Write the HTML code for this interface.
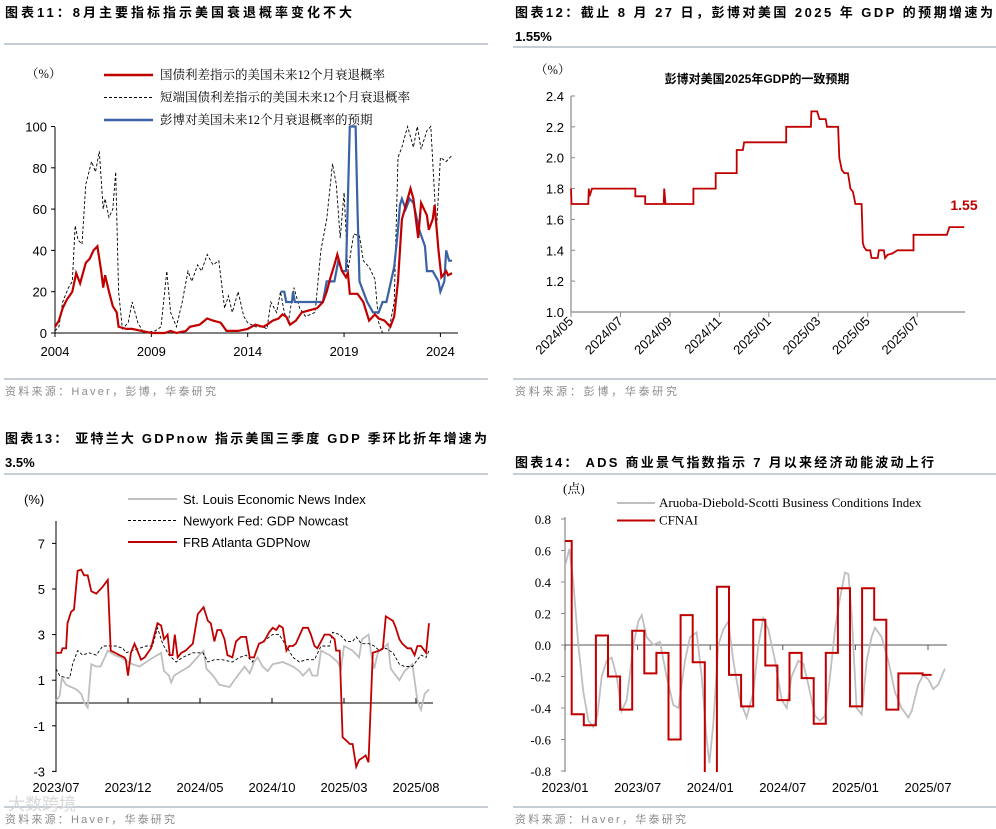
<!DOCTYPE html>
<html><head><meta charset="utf-8">
<style>
html,body{margin:0;padding:0;background:#fff;}
svg{display:block;}
text{font-family:"Liberation Sans","Noto Sans CJK SC",sans-serif;}
.ttl{font-weight:bold;font-size:13px;fill:#000;}
.src{font-size:11px;fill:#8c8c8c;}
.tk{font-size:13px;fill:#000;}
.lg{font-family:"Liberation Serif","Noto Serif CJK SC",serif;font-size:12.5px;fill:#000;}
.lga{font-size:13px;fill:#000;}
.tms{font-family:"Liberation Serif","Noto Serif CJK SC",serif;font-size:13px;fill:#000;}
</style></head>
<body>
<svg id="root" width="996" height="829" viewBox="0 0 996 829" xmlns="http://www.w3.org/2000/svg">
<rect width="996" height="829" fill="#fff"/>
<text class="ttl" x="5" y="17" textLength="347">图表11：8月主要指标指示美国衰退概率变化不大</text>
<line x1="4" y1="44" x2="488" y2="44" stroke="#a3afba" stroke-width="1.2"/>
<text class="ttl" x="515" y="17" textLength="478">图表12：截止 8 月 27 日，彭博对美国 2025 年 GDP 的预期增速为</text>
<text class="ttl" x="515" y="41">1.55%</text>
<line x1="513" y1="47" x2="996" y2="47" stroke="#a3afba" stroke-width="1.2"/>
<line x1="4" y1="379" x2="488" y2="379" stroke="#a3afba" stroke-width="1.2"/>
<line x1="513" y1="379" x2="996" y2="379" stroke="#a3afba" stroke-width="1.2"/>
<text class="src" x="5" y="395" textLength="211">资料来源：Haver，彭博，华泰研究</text>
<text class="src" x="515" y="395" textLength="162">资料来源：彭博，华泰研究</text>
<text class="ttl" x="5" y="443" textLength="482">图表13： 亚特兰大 GDPnow 指示美国三季度 GDP 季环比折年增速为</text>
<text class="ttl" x="5" y="467">3.5%</text>
<line x1="4" y1="474" x2="488" y2="474" stroke="#a3afba" stroke-width="1.2"/>
<text class="ttl" x="515" y="467" textLength="419">图表14： ADS 商业景气指数指示 7 月以来经济动能波动上行</text>
<line x1="513" y1="474" x2="996" y2="474" stroke="#a3afba" stroke-width="1.2"/>
<line x1="4" y1="807" x2="488" y2="807" stroke="#a3afba" stroke-width="1.2"/>
<line x1="513" y1="807" x2="996" y2="807" stroke="#a3afba" stroke-width="1.2"/>
<text class="src" x="5" y="823" textLength="170">资料来源：Haver，华泰研究</text>
<text class="src" x="515" y="823" textLength="171">资料来源：Haver，华泰研究</text>
<text x="8" y="810" font-size="17" fill="#d8d8d8">大数跨境</text>
<defs>
<clipPath id="clip4"><rect x="565" y="505" width="390" height="267"/></clipPath>
</defs>
<g id="c1"></g>
<g id="c2"></g>
<g id="c3"></g>
<g id="c4"></g>
</svg>
<script>
// ---------- Chart 11 data (year, %) ----------
const c1RedT = [2004.0,2004.2,2004.4,2004.6,2004.9,2005.1,2005.3,2005.6,2005.8,2006.0,2006.2,2006.4,2006.5,2006.6,2006.8,2007.0,2007.2,2007.3,2007.7,2008.0,2008.5,2009.0,2009.7,2010.0,2010.3,2010.8,2011.0,2011.5,2011.9,2012.2,2012.6,2012.9,2013.5,2014.0,2014.4,2014.8,2015.0,2015.3,2015.6,2015.8,2016.0,2016.2,2016.5,2016.8,2017.2,2017.6,2017.9,2018.1,2018.3,2018.5,2018.65,2018.8,2018.9,2019.1,2019.2,2019.3,2019.7,2020.0,2020.3,2020.6,2020.8,2021.1,2021.4,2021.6,2021.8,2022.0,2022.45,2022.6,2022.85,2023.0,2023.3,2023.4,2023.6,2023.7,2023.9,2024.05,2024.3,2024.4,2024.6];
const c1RedV = [3,6,12,16,20,29,24,34,36,40,42,30,22,28,20,13,10,3,2,2,1,0,0,1,0,1,3,4,7,6,5,1,1,2,4,3,4,6,7,9,8,4,6,10,11,12,15,20,27,33,38,33,30,27,29,19,19,15,6,9,7,6,3,8,25,55,70,65,46,63,57,50,55,62,40,27,30,28,29];
const c1DashT = [2004.0,2004.2,2004.4,2004.7,2004.9,2005.05,2005.2,2005.4,2005.6,2005.9,2006.1,2006.3,2006.5,2006.6,2006.8,2007.0,2007.15,2007.3,2007.5,2007.8,2008.0,2008.3,2008.6,2009.2,2009.5,2009.8,2010.0,2010.3,2010.6,2010.9,2011.1,2011.4,2011.6,2011.9,2012.2,2012.5,2012.8,2013.0,2013.2,2013.5,2013.8,2014.0,2014.4,2014.8,2015.0,2015.2,2015.5,2015.7,2015.9,2016.1,2016.4,2016.7,2017.0,2017.5,2017.8,2018.1,2018.4,2018.6,2018.8,2019.0,2019.2,2019.5,2019.8,2020.0,2020.3,2020.6,2020.8,2021.0,2021.3,2021.6,2021.8,2022.0,2022.3,2022.6,2022.8,2023.0,2023.3,2023.5,2023.8,2024.0,2024.3,2024.6];
const c1DashV = [1,3,15,22,25,52,45,43,72,83,78,88,60,65,56,60,78,20,2,5,15,5,0,1,3,30,10,3,15,30,25,33,30,38,33,35,12,18,10,20,8,5,3,3,2,15,10,20,10,5,22,12,8,10,40,55,82,72,46,68,30,48,47,35,32,26,5,0,0,15,85,90,100,90,100,89,98,100,50,85,83,86];
const c1BlueT = [2015.7,2015.9,2016.0,2016.3,2016.35,2016.45,2017.9,2018.1,2018.5,2018.7,2018.9,2019.1,2019.3,2019.6,2019.7,2019.8,2020.2,2020.5,2020.8,2021.0,2021.2,2021.6,2021.8,2021.9,2022.0,2022.2,2022.4,2022.6,2022.9,2023.2,2023.3,2023.6,2023.9,2024.0,2024.2,2024.3,2024.45,2024.6];
const c1BlueV = [20,20,15,15,20,15,15,25,25,35,30,30,100,100,60,25,15,10,10,15,15,32,50,62,65,60,65,63,50,42,30,30,25,20,25,40,35,35];
const c1YTicks = [0,20,40,60,80,100];
const c1XTicks = [2004,2009,2014,2019,2024];

// ---------- Chart 12 data (months since 2024/05, %) ----------
const c2T = [0,0.02,0.7,0.72,0.75,0.85,2.6,2.6,3.0,3.0,3.75,3.77,3.82,4.95,4.95,5.85,5.85,6.7,6.7,6.95,7.0,8.7,8.7,9.7,9.72,9.95,10.05,10.3,10.35,10.8,10.85,10.95,11.05,11.2,11.3,11.4,11.5,11.75,11.8,11.85,11.95,12.1,12.15,12.4,12.45,12.65,12.7,12.8,13.0,13.2,13.85,13.85,15.2,15.3,15.9];
const c2V = [1.8,1.7,1.7,1.8,1.75,1.8,1.8,1.75,1.75,1.7,1.7,1.8,1.7,1.7,1.8,1.8,1.9,1.9,2.05,2.05,2.1,2.1,2.2,2.2,2.3,2.3,2.25,2.25,2.2,2.2,2.0,1.92,1.9,1.9,1.8,1.78,1.7,1.7,1.45,1.42,1.4,1.4,1.35,1.35,1.4,1.4,1.35,1.37,1.38,1.4,1.4,1.5,1.5,1.55,1.55];
const c2YTicks = [1.0,1.2,1.4,1.6,1.8,2.0,2.2,2.4];
const c2XLabels = ["2024/05","2024/07","2024/09","2024/11","2025/01","2025/03","2025/05","2025/07"];
const c2LastLabel = "1.55";

// ---------- Chart 13 data (months since 2023/07, %) ----------
const c3RedT = [0,0.35,0.45,0.7,0.8,1.05,1.25,1.5,1.75,1.95,2.2,2.45,2.8,3.25,3.6,3.8,4.4,4.75,4.85,5.0,5.2,5.45,5.65,5.9,6.15,6.6,7.05,7.3,7.5,7.75,7.9,8.1,8.25,8.45,8.7,9.0,9.5,9.85,10.25,10.55,10.75,11.0,11.2,11.45,11.7,11.9,12.25,12.5,12.85,13.2,13.45,13.75,14.1,14.45,14.8,15.05,15.3,15.5,15.75,16.0,16.2,16.45,16.65,17.15,17.5,17.7,17.95,18.15,18.4,18.65,19.0,19.35,19.45,19.7,19.9,20.25,20.4,20.6,20.85,21.05,21.3,21.5,21.7,22.0,22.45,22.7,22.9,23.4,23.6,23.85,24.05,24.4,24.65,24.9,25.1,25.35,25.7,25.9];
const c3RedV = [2.2,2.2,2.4,2.4,3.5,4.0,4.1,5.8,5.85,5.6,5.6,4.9,4.8,5.1,5.4,2.3,2.1,2.0,1.9,1.2,2.2,2.6,2.3,1.9,2.0,2.4,3.5,3.4,2.8,3.0,2.1,2.1,3.0,2.0,2.2,2.3,2.6,3.9,4.2,3.6,3.5,2.7,3.2,3.2,2.8,2.1,2.0,2.7,2.9,2.9,2.0,2.0,2.6,2.7,3.1,3.3,3.2,3.4,3.3,2.3,2.5,2.5,2.6,3.3,3.3,3.0,2.5,2.4,2.7,3.0,3.0,2.8,2.3,2.3,-1.5,-1.7,-1.8,-1.8,-2.8,-2.5,-2.4,-2.3,-2.6,2.2,2.3,2.4,3.8,3.6,3.3,2.8,2.6,2.4,2.4,2.1,2.5,2.5,2.2,3.5];
const c3GreyT = [0,0.25,0.4,0.7,1.4,1.75,1.97,2.2,2.45,2.8,3.1,3.6,4.05,4.5,5.0,5.3,5.8,6.5,7.3,7.5,7.85,8.0,8.2,8.7,9.25,9.95,10.25,10.45,10.9,11.35,12.05,12.5,13.1,13.45,13.75,14.0,14.35,14.7,15.05,15.75,16.45,16.9,17.15,17.6,17.8,18.15,18.4,19.0,19.55,19.8,20.0,20.6,21.05,21.25,21.5,21.7,21.9,22.1,22.35,22.7,23.05,23.25,23.85,24.2,24.75,25.1,25.35,25.6,25.9];
const c3GreyV = [0.1,0.3,1.1,0.8,0.6,0.4,0.0,-0.2,1.7,1.6,1.6,2.3,2.1,2.0,1.8,1.7,1.6,1.9,2.2,1.4,1.2,0.9,1.2,1.4,1.6,2.1,2.3,1.5,1.2,0.8,0.7,1.1,1.6,1.3,1.8,2.0,1.6,1.4,1.7,1.8,1.6,1.4,1.2,1.5,1.2,1.2,2.3,2.1,1.8,1.5,2.5,2.3,2.0,2.8,2.9,3.0,2.1,1.5,2.2,2.4,2.6,1.5,1.0,1.4,1.7,0.1,-0.3,0.4,0.6];
const c3DashT = [0,0.25,0.7,0.95,1.15,1.5,1.85,2.3,2.8,3.25,3.7,4.15,4.65,4.85,5.3,5.8,6.25,6.7,7.05,7.4,7.85,8.35,8.8,9.5,10.2,10.55,11.0,11.55,12.25,12.75,13.2,13.65,14.1,14.6,15.05,15.5,16.0,16.45,16.9,17.35,17.95,18.4,19.0,19.2,19.7,20.15,20.6,20.85,21.2,21.75,22.1,22.45,22.9,23.4,23.85,24.2,24.75,25.1,25.35,25.7,25.9];
const c3DashV = [1.5,1.2,1.1,1.1,1.7,2.3,2.1,2.2,2.1,2.5,2.5,2.5,2.4,2.2,2.3,2.4,2.5,2.5,3.3,2.6,2.1,1.8,2.0,2.2,2.2,1.8,1.9,1.9,1.8,2.0,2.1,1.8,2.6,2.8,3.0,3.0,2.5,2.0,1.8,1.9,1.9,2.5,2.5,3.1,3.0,2.7,2.7,2.9,2.6,2.6,2.5,2.3,2.4,2.2,1.7,1.6,1.6,1.9,2.1,2.0,2.3];
const c3YTicks = [-3,-1,1,3,5,7];
const c3XLabels = ["2023/07","2023/12","2024/05","2024/10","2025/03","2025/08"];

// ---------- Chart 14 data (months since 2023/01, index pts) ----------
const c4Cfnai = [0.66,-0.44,-0.51,0.06,-0.2,-0.41,0.09,-0.18,-0.05,-0.6,0.19,-0.11,-0.95,0.37,-0.19,-0.39,0.16,-0.13,-0.35,-0.05,-0.21,-0.5,-0.05,0.36,-0.39,0.36,0.16,-0.41,-0.18,-0.18,-0.19];
const c4AdsT = [0,0.36,0.69,1.1,1.52,1.93,2.34,2.67,3.03,3.44,3.86,4.27,4.68,5.1,5.65,6.06,6.34,6.75,7.3,7.85,8.4,8.95,9.37,9.92,10.33,10.88,11.3,11.71,11.93,12.26,12.67,13.09,13.5,13.91,14.46,15.01,15.56,15.98,16.39,16.8,17.36,17.91,18.32,18.73,19.28,19.7,20.11,20.66,21.07,21.49,21.9,22.31,22.73,23.14,23.42,23.69,24.1,24.52,24.93,25.34,25.62,26.17,26.72,27.27,27.82,28.37,28.65,29.2,29.61,30.03,30.44,30.85,31.4];
const c4AdsV = [0.5,0.61,0.4,0.0,-0.3,-0.48,-0.52,-0.45,-0.2,-0.1,-0.08,-0.2,-0.42,-0.35,0.0,0.15,0.19,0.05,0.0,0.02,-0.2,-0.38,-0.4,-0.1,0.05,0.08,-0.2,-0.6,-0.75,-0.5,0.0,0.1,0.15,-0.1,-0.35,-0.46,-0.3,0.0,0.17,0.1,-0.1,-0.35,-0.4,-0.2,-0.1,-0.12,-0.25,-0.45,-0.48,-0.45,-0.2,0.1,0.3,0.46,0.45,0.2,-0.4,-0.44,-0.1,0.05,0.11,0.05,-0.1,-0.3,-0.4,-0.46,-0.42,-0.25,-0.19,-0.22,-0.28,-0.25,-0.15];
const c4YTicks = [-0.8,-0.6,-0.4,-0.2,0.0,0.2,0.4,0.6,0.8];
const c4XLabels = ["2023/01","2023/07","2024/01","2024/07","2025/01","2025/07"];

const NS = "http://www.w3.org/2000/svg";
function el(tag, parent, attrs){
  const e = document.createElementNS(NS, tag);
  for (const k in attrs) e.setAttribute(k, attrs[k]);
  parent.appendChild(e);
  return e;
}
function pathFrom(ts, vs, xf, yf){
  let d = "";
  for (let i=0;i<ts.length;i++) d += (i?"L":"M") + xf(ts[i]).toFixed(1) + "," + yf(vs[i]).toFixed(1);
  return d;
}

// ===== Chart 11 =====
(function(){
  const g = document.getElementById("c1");
  const x = t => 55 + (t-2004)*19.27;
  const y = v => 333 - v*2.065;
  const yl = el("line", g, {x1:55,y1:127,x2:55,y2:333,stroke:"#000","stroke-width":1});
  
  
  const xl = el("line", g, {x1:55,y1:333,x2:458,y2:333,stroke:"#000","stroke-width":1});
  
  
  c1YTicks.forEach(v => {
    el("line", g, {x1:51,y1:y(v),x2:55,y2:y(v),stroke:"#000"});
    const t = el("text", g, {x:47,y:y(v)+5,"text-anchor":"end",class:"tk"});
    t.textContent = v;
    
    
  });
  c1XTicks.forEach(v => {
    el("line", g, {x1:x(v),y1:333,x2:x(v),y2:337,stroke:"#000"});
    const t = el("text", g, {x:x(v),y:356,"text-anchor":"middle",class:"tk"});
    t.textContent = v;
    
    
  });
  const dash = el("path", g, {d:pathFrom(c1DashT,c1DashV,x,y),fill:"none",stroke:"#000","stroke-width":0.9,"stroke-dasharray":"3,2"});
  
  
  const blue = el("path", g, {d:pathFrom(c1BlueT,c1BlueV,x,y),fill:"none",stroke:"#3a62a4","stroke-width":2.2});
  
  
  const red = el("path", g, {d:pathFrom(c1RedT,c1RedV,x,y),fill:"none",stroke:"#c00000","stroke-width":2.2});
  
  
  const u = el("text", g, {x:26,y:78,class:"lg"}); u.textContent = "（%）";
  
  
  const leg = [["国债利差指示的美国未来12个月衰退概率","#c00000",2.5,null],["短端国债利差指示的美国未来12个月衰退概率","#000",1,"3,2"],["彭博对美国未来12个月衰退概率的预期","#3a62a4",2.5,null]];
  leg.forEach((L,i) => {
    const yy = 75 + i*22.5;
    const a = {x1:104,y1:yy,x2:153,y2:yy,stroke:L[1],"stroke-width":L[2]};
    if (L[3]) a["stroke-dasharray"] = L[3];
    const s = el("line", g, a);
    
    
    const t = el("text", g, {x:160,y:yy+4,class:"lg"}); t.textContent = L[0];
    
    
  });
})();

// ===== Chart 12 =====
(function(){
  const g = document.getElementById("c2");
  const x = m => 571 + m*24.73;
  const y = v => 312 - (v-1)*154.3;
  const yl = el("line", g, {x1:571,y1:96,x2:571,y2:312,stroke:"#888","stroke-width":1.2});
  
  
  const xl = el("line", g, {x1:571,y1:312,x2:965,y2:312,stroke:"#888","stroke-width":1.2});
  
  
  c2YTicks.forEach(v => {
    el("line", g, {x1:571,y1:y(v),x2:575,y2:y(v),stroke:"#888"});
    const t = el("text", g, {x:564,y:y(v)+5,"text-anchor":"end",class:"tk"});
    t.textContent = v.toFixed(1);
    
    
  });
  c2XLabels.forEach((s,i) => {
    const xx = x(i*2);
    el("line", g, {x1:xx,y1:312,x2:xx,y2:317,stroke:"#888"});
    const t = el("text", g, {x:xx+3,y:322,"text-anchor":"end",class:"tk",transform:"rotate(-45 "+(xx+3)+" 322)"});
    t.textContent = s;
    
    
  });
  const ln = el("path", g, {d:pathFrom(c2T,c2V,x,y),fill:"none",stroke:"#c00000","stroke-width":1.8});
  
  
  const lab = el("text", g, {x:964,y:y(c2V[c2V.length-1])-17,"text-anchor":"middle",style:"fill:#c00000;font-size:14px;font-weight:bold"});
  lab.textContent = c2LastLabel;
  
  
  const ti = el("text", g, {x:757,y:83,"text-anchor":"middle","font-size":"12","font-weight":"bold"});
  ti.textContent = "彭博对美国2025年GDP的一致预期";
  
  
  const u = el("text", g, {x:535,y:74,class:"lg"}); u.textContent = "（%）";
  
  
})();

// ===== Chart 13 =====
(function(){
  const g = document.getElementById("c3");
  const x = m => 56 + m*14.4;
  const y = v => 703 - v*22.8;
  const yl = el("line", g, {x1:56,y1:521,x2:56,y2:772,stroke:"#000","stroke-width":1});
  
  
  const xl = el("line", g, {x1:56,y1:703,x2:433,y2:703,stroke:"#000","stroke-width":1});
  
  
  c3YTicks.forEach(v => {
    el("line", g, {x1:52,y1:y(v),x2:56,y2:y(v),stroke:"#000"});
    const t = el("text", g, {x:45,y:y(v)+5,"text-anchor":"end",class:"tk"});
    t.textContent = v;
    
    
  });
  c3XLabels.forEach((s,i) => {
    const xx = x(i*5);
    el("line", g, {x1:xx,y1:698,x2:xx,y2:703,stroke:"#000"});
    const t = el("text", g, {x:xx,y:792,"text-anchor":"middle",class:"tk"});
    t.textContent = s;
    
    
  });
  const gr = el("path", g, {d:pathFrom(c3GreyT,c3GreyV,x,y),fill:"none",stroke:"#bfbfbf","stroke-width":1.8});
  
  
  const da = el("path", g, {d:pathFrom(c3DashT,c3DashV,x,y),fill:"none",stroke:"#000","stroke-width":0.9,"stroke-dasharray":"3,2"});
  
  
  const rd = el("path", g, {d:pathFrom(c3RedT,c3RedV,x,y),fill:"none",stroke:"#c00000","stroke-width":1.8});
  
  
  const u = el("text", g, {x:24,y:504,class:"lga"}); u.textContent = "(%)";
  
  
  const leg = [["St. Louis Economic News Index","#bfbfbf",2,null],["Newyork Fed: GDP Nowcast","#000",1,"3,2"],["FRB Atlanta GDPNow","#c00000",2,null]];
  leg.forEach((L,i) => {
    const yy = 499 + i*21.5;
    const a = {x1:128,y1:yy,x2:177,y2:yy,stroke:L[1],"stroke-width":L[2]};
    if (L[3]) a["stroke-dasharray"] = L[3];
    const s = el("line", g, a);
    
    
    const t = el("text", g, {x:183,y:yy+5,class:"lga"}); t.textContent = L[0];
    
    
  });
})();

// ===== Chart 14 =====
(function(){
  const g = document.getElementById("c4");
  const x = m => 565 + m*12.1;
  const y = v => 645 - v*157.5;
  const yl = el("line", g, {x1:565,y1:517,x2:565,y2:772,stroke:"#888","stroke-width":1.2});
  
  
  const xl = el("line", g, {x1:565,y1:645,x2:947,y2:645,stroke:"#555","stroke-width":1});
  
  
  c4YTicks.forEach(v => {
    el("line", g, {x1:561,y1:y(v),x2:565,y2:y(v),stroke:"#888"});
    const t = el("text", g, {x:551,y:y(v)+5,"text-anchor":"end",class:"tms"});
    t.textContent = v.toFixed(1);
    
    
  });
  c4XLabels.forEach((s,i) => {
    const xx = x(i*6);
    el("line", g, {x1:xx,y1:645,x2:xx,y2:650,stroke:"#555"});
    const t = el("text", g, {x:xx,y:792,"text-anchor":"middle",class:"tk"});
    t.textContent = s;
    
    
  });
  const ads = el("path", g, {d:pathFrom(c4AdsT,c4AdsV,x,y),fill:"none",stroke:"#bfbfbf","stroke-width":1.8,"clip-path":"url(#clip4)"});
  
  
  let d = "";
  c4Cfnai.forEach((v,i) => {
    const x0 = x(Math.max(0, i-0.45));
    const x1 = x(i === c4Cfnai.length-1 ? i+0.3 : i+0.55);
    d += (i ? "L" : "M") + x0.toFixed(1) + "," + y(v).toFixed(1) + "L" + x1.toFixed(1) + "," + y(v).toFixed(1);
  });
  const cf = el("path", g, {d:d,fill:"none",stroke:"#c00000","stroke-width":2,"clip-path":"url(#clip4)"});
  
  
  const u = el("text", g, {x:563,y:493,class:"tms","font-size":"12"}); u.textContent = "(点)";
  
  
  const leg = [["Aruoba-Diebold-Scotti Business Conditions Index","#bfbfbf"],["CFNAI","#c00000"]];
  leg.forEach((L,i) => {
    const yy = 503 + i*17.5;
    const s = el("line", g, {x1:617,y1:yy,x2:655,y2:yy,stroke:L[1],"stroke-width":2});
    
    
    const t = el("text", g, {x:659,y:yy+4,class:"tms","font-size":"12.5"}); t.textContent = L[0];
    
    
  });
})();
</script>
</body></html>
